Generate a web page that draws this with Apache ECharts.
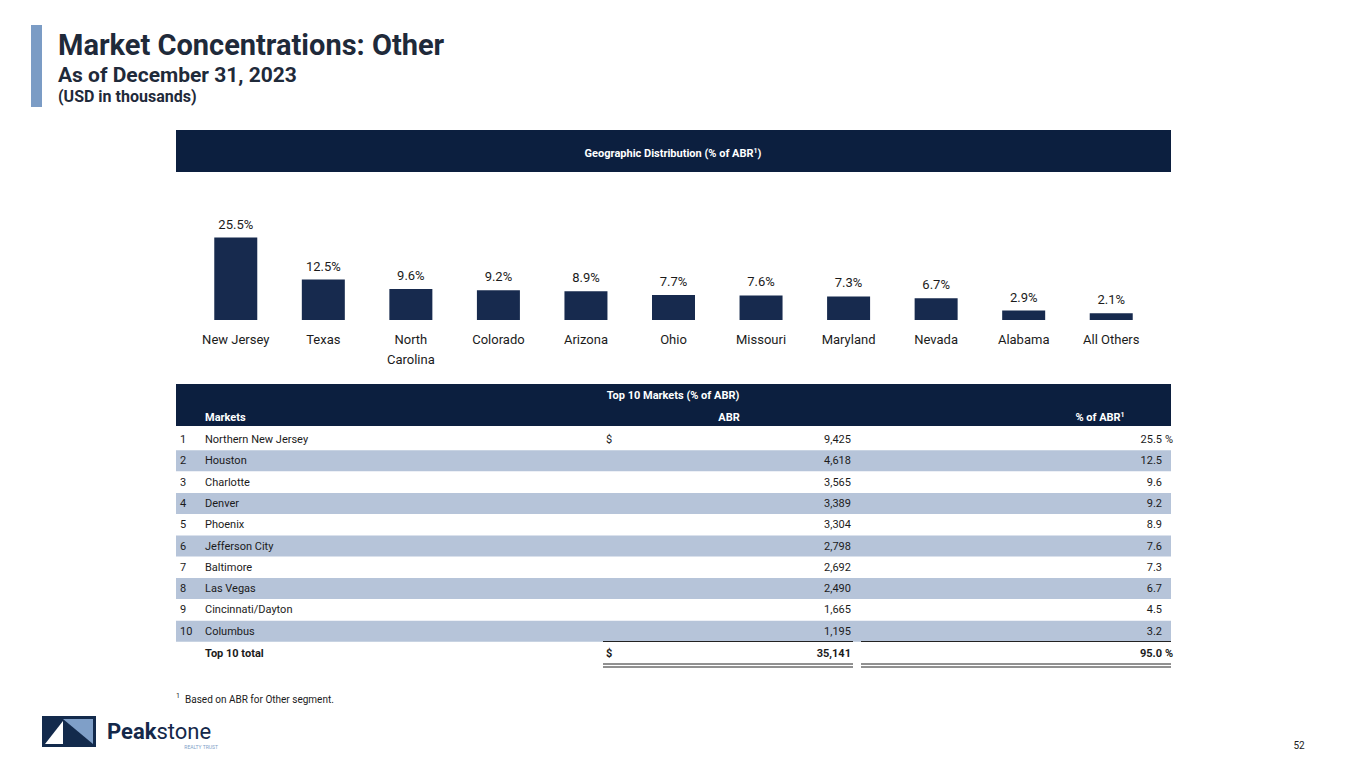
<!DOCTYPE html>
<html><head><meta charset="utf-8">
<script src="https://cdn.jsdelivr.net/npm/echarts@6/dist/echarts.min.js"></script>
<style>html,body{margin:0;padding:0;background:#fff}#c{width:1365px;height:768px}</style>
</head><body><div id="c"></div>
<script>
const categories = ['New Jersey','Texas','North\nCarolina','Colorado','Arizona','Ohio','Missouri','Maryland','Nevada','Alabama','All Others'];
const shares = [25.5,12.5,9.6,9.2,8.9,7.7,7.6,7.3,6.7,2.9,2.1];
const marketNames = ['Northern New Jersey','Houston','Charlotte','Denver','Phoenix','Jefferson City','Baltimore','Las Vegas','Cincinnati/Dayton','Columbus'];
const marketABR = ['9,425','4,618','3,565','3,389','3,304','2,798','2,692','2,490','1,665','1,195'];
const marketPct = ['25.5','12.5','9.6','9.2','8.9','7.6','7.3','6.7','4.5','3.2'];
const totalABR = '35,141';
const totalPct = '95.0';

const NAVY = '#0c1f3f', BAR = '#172a4e', SHADE = '#b6c4d9', TXT = '#1b1b1b';
const FONT = 'Roboto, "Noto Sans", sans-serif';
const chart = echarts.init(document.getElementById('c'), null, {renderer:'svg'});

const g = [];
function txt(x,y,s,opt){ g.push({type:'text',x:x,y:y,silent:true,style:Object.assign({text:s,fill:TXT,font:'11px '+FONT,textAlign:'left',textVerticalAlign:'middle'},opt||{})}); }
function rect(x,y,w,h,fill){ g.push({type:'rect',silent:true,shape:{x:x,y:y,width:w,height:h},style:{fill:fill}}); }
function line(x1,y1,x2,y2,c,w){ g.push({type:'line',silent:true,shape:{x1:x1,y1:y1,x2:x2,y2:y2},style:{stroke:c,lineWidth:w}}); }

// title block
rect(31,25,11,82,'#7b9cc5');
txt(58,45,'Market Concentrations: Other',{font:'bold 29px '+FONT,fill:'#1f2a3a'});
txt(58,75,'As of December 31, 2023',{font:'bold 21px '+FONT,fill:'#1f2a3a'});
txt(58,96,'(USD in thousands)',{font:'bold 16px '+FONT,fill:'#1f2a3a'});

// chart header
rect(176,130,995,42,NAVY);
g.push({type:'text',x:673,y:153,silent:true,style:{rich:{a:{font:'bold 11px '+FONT,fill:'#fff'},s:{font:'bold 7px '+FONT,fill:'#fff',verticalAlign:'top',padding:[0,0,5,0]}},text:'{a|Geographic Distribution (% of ABR}{s|1}{a|)}',textAlign:'center',textVerticalAlign:'middle'}});

// table header
rect(176,384,995,42,NAVY);
txt(673,395,'Top 10 Markets (% of ABR)',{font:'bold 11px '+FONT,fill:'#fff',textAlign:'center'});
txt(205,417,'Markets',{font:'bold 11px '+FONT,fill:'#fff'});
txt(729,417,'ABR',{font:'bold 11px '+FONT,fill:'#fff',textAlign:'center'});
g.push({type:'text',x:1100,y:417,silent:true,style:{rich:{a:{font:'bold 11px '+FONT,fill:'#fff'},s:{font:'bold 7px '+FONT,fill:'#fff',verticalAlign:'top',padding:[0,0,5,0]}},text:'{a|% of ABR}{s|1}',textAlign:'center',textVerticalAlign:'middle'}});

// rows
const rowY0 = 439.5, rowH = 21.3;
marketNames.forEach(function(n,i){
  const y = rowY0 + i*rowH;
  if (i%2===1) rect(176,y-10.5,995,21,SHADE);
  txt(180,y,String(i+1));
  txt(205,y,n);
  if (i===0) txt(606,y,'$');
  txt(851,y,marketABR[i],{textAlign:'right'});
  txt(1162,y,marketPct[i],{textAlign:'right'});
  if (i===0) txt(1165,y,'%');
});
// total row
const ty = 653;
line(603,641.5,853,641.5,'#222',1.2);
line(861,641.5,1171,641.5,'#222',1.2);
txt(205,ty,'Top 10 total',{font:'bold 11px '+FONT});
txt(606,ty,'$',{font:'bold 11px '+FONT});
txt(851,ty,totalABR,{textAlign:'right',font:'bold 11px '+FONT});
txt(1162,ty,totalPct,{textAlign:'right',font:'bold 11px '+FONT});
txt(1165,ty,'%',{font:'bold 11px '+FONT});
[664,667].forEach(function(yy){ line(603,yy,853,yy,'#222',1); line(861,yy,1171,yy,'#222',1); });

// footnote
txt(176,696,'1',{font:'7px '+FONT});
txt(185,699,'Based on ABR for Other segment.',{font:'10px '+FONT});

// logo
rect(42,716,54,31,'#132a4c');
g.push({type:'polygon',silent:true,shape:{points:[[63,719],[93,719],[93,744]]},style:{fill:'#7f9fc8'}});
g.push({type:'polygon',silent:true,shape:{points:[[45,744],[63,721],[63,744]]},style:{fill:'#ffffff'}});
g.push({type:'text',x:107,y:731,silent:true,style:{rich:{b:{font:'bold 22px '+FONT,fill:'#14284a'},r:{font:'22px '+FONT,fill:'#14284a'}},text:'{b|Peak}{r|stone}',textAlign:'left',textVerticalAlign:'middle'}});
txt(218,747,'REALTY TRUST',{font:'5px '+FONT,fill:'#7f9fc8',textAlign:'right'});

// page number
txt(1299,745,'52',{font:'10px '+FONT,textAlign:'center'});

chart.setOption({
  animation:false,
  grid:{left:192,right:210,top:223,bottom:448},
  xAxis:{type:'category',data:categories,axisLine:{show:false},axisTick:{show:false},
    axisLabel:{color:TXT,fontSize:13,fontFamily:FONT,margin:9,lineHeight:20,interval:0}},
  yAxis:{type:'value',min:0,max:30,show:false,splitLine:{show:false}},
  series:[{type:'bar',data:shares,barWidth:43,itemStyle:{color:BAR},
    label:{show:true,position:'top',distance:7,color:TXT,fontSize:13,fontFamily:FONT,formatter:function(p){return p.value.toFixed(1)+'%';}}}],
  graphic:g
});
</script></body></html>
